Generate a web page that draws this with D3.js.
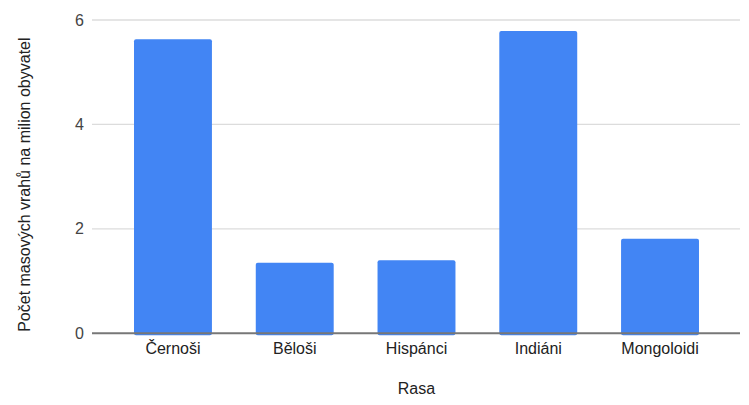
<!DOCTYPE html>
<html><head><meta charset="utf-8">
<script src="https://cdn.jsdelivr.net/npm/d3@7"></script>
<style>body{margin:0;background:#fff}svg{display:block}text{font-family:"Liberation Sans",Arial,sans-serif}</style>
</head><body>
<svg id="c" width="749" height="405"></svg>
<script>
const categories = ["Černoši", "Běloši", "Hispánci", "Indiáni", "Mongoloidi"];
const values = [5.63, 1.35, 1.40, 5.79, 1.81];
const yTicks = [0, 2, 4, 6];
const xTitle = "Rasa";
const yTitle = "Počet masových vrahů na milion obyvatel";

const svg = d3.select("#c");
const plotLeft = 92, plotRight = 741, plotTop = 20, plotBottom = 333.3;
const x = d3.scaleBand().domain(categories).range([plotLeft, plotRight]).paddingInner(0.36).paddingOuter(0.345);
const y = d3.scaleLinear().domain([0, 6]).range([plotBottom, plotTop]);

// gridlines
svg.append("g").selectAll("line").data(yTicks.filter(d => d !== 0)).join("line")
  .attr("x1", plotLeft).attr("x2", plotRight - 1)
  .attr("y1", d => y(d)).attr("y2", d => y(d))
  .attr("stroke", "#dcdcdc").attr("stroke-width", 1.3);

// y tick labels
const yAxis = d3.axisLeft(y).tickValues(yTicks).tickSize(0).tickPadding(8).tickFormat(d3.format("d"));
const ya = svg.append("g").attr("transform", `translate(${plotLeft},0)`).call(yAxis);
ya.select(".domain").remove();
ya.selectAll("text").attr("font-size", 16).attr("fill", "#444").attr("font-family", "Liberation Sans, Arial, sans-serif");

// bars
svg.append("g").selectAll("rect").data(values).join("rect")
  .attr("x", (d, i) => x(categories[i]))
  .attr("width", x.bandwidth())
  .attr("y", d => y(d))
  .attr("height", d => y(0) - y(d) + 2)
  .attr("rx", 2)
  .attr("fill", "#4285f4");

// baseline
svg.append("line").attr("x1", plotLeft).attr("x2", plotRight - 1)
  .attr("y1", y(0)).attr("y2", y(0)).attr("stroke", "#777").attr("stroke-width", 2);

// x labels
const xAxis = d3.axisBottom(x).tickSize(0).tickPadding(9.5);
const xa = svg.append("g").attr("transform", `translate(0,${plotBottom})`).call(xAxis);
xa.select(".domain").remove();
xa.selectAll("text").attr("font-size", 16).attr("fill", "#222").attr("font-family", "Liberation Sans, Arial, sans-serif");

// titles
svg.append("text").attr("x", (x(categories[2]) + x.bandwidth() / 2)).attr("y", 394)
  .attr("text-anchor", "middle").attr("font-size", 16).attr("fill", "#222").text(xTitle);
svg.append("text").attr("transform", `translate(30,${(plotTop + plotBottom) / 2 + 8}) rotate(-90)`)
  .attr("text-anchor", "middle").attr("font-size", 16).attr("fill", "#222").text(yTitle);
</script>
</body></html>
